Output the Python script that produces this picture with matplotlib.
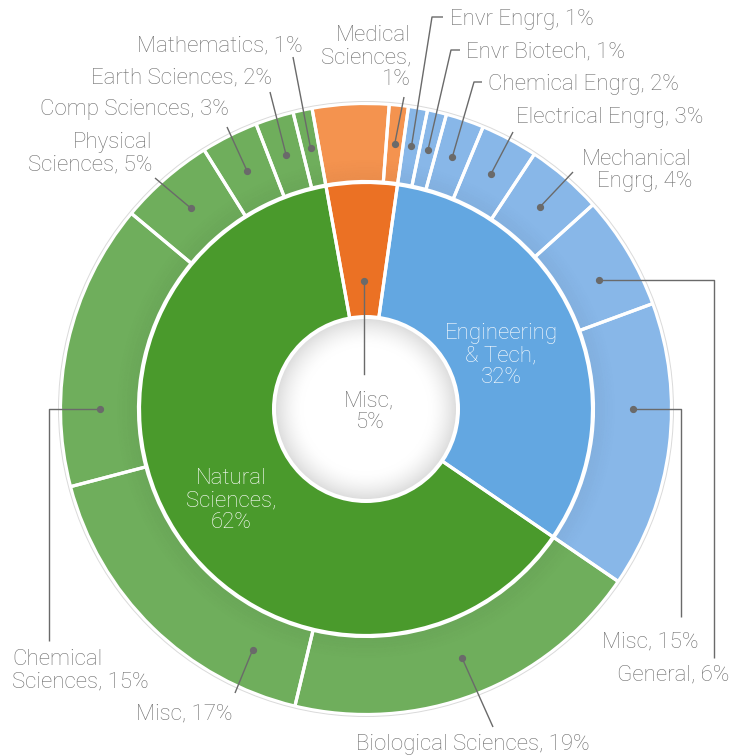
import numpy as np
import matplotlib.pyplot as plt
from matplotlib.patches import Circle, Wedge

# ---------------- data ----------------
inner_labels = ["Engineering\n& Tech", "Natural\nSciences", "Misc"]
inner_values = [32, 62, 5]

outer_labels = ["Envr Engrg", "Envr Biotech", "Chemical Engrg", "Electrical Engrg",
                "Mechanical\nEngrg", "General", "Misc",
                "Biological Sciences", "Misc", "Chemical\nSciences", "Physical\nSciences",
                "Comp Sciences", "Earth Sciences", "Mathematics",
                "Other", "Medical\nSciences"]
outer_values = [1, 1, 2, 3, 4, 6, 15,
                19, 17, 15, 5, 3, 2, 1,
                4, 1]
outer_group = [0] * 7 + [1] * 7 + [2] * 2

# ---------------- style ----------------
W, H = 733, 755
inner_colors = ["#63a7e1", "#4a9a2c", "#eb7124"]
group_outer_colors = ["#88b7e8", "#6fae5c", "#f4934f"]
outer_colors = [group_outer_colors[g] for g in outer_group]
TXT = "#6e6e6e"
LINE = "#6a6a6a"
FONT = "Roboto"
FS = 16

plt.rcParams['font.family'] = [FONT, 'DejaVu Sans']

fig = plt.figure(figsize=(W / 100, H / 100), dpi=100)
ax = fig.add_axes([0, 0, 1, 1])


def P(x, y):
    return x, H - y


CX, CY = P(366, 409)
R_OUT = 305.5
W_OUT = 78
R_IN = 226.5
W_IN = 140
START = 82

# fills
w_out, _ = ax.pie(outer_values, radius=R_OUT, center=(CX, CY), startangle=START,
                  counterclock=False, colors=outer_colors,
                  wedgeprops=dict(width=W_OUT, linewidth=0))
w_in, _ = ax.pie(inner_values, radius=R_IN, center=(CX, CY), startangle=START,
                 counterclock=False, colors=inner_colors,
                 wedgeprops=dict(width=W_IN, linewidth=0))

# subtle shadow on inner edge of outer ring
for k in range(8):
    ax.add_patch(Wedge((CX, CY), 229 + 2.5 * (k + 1), 0, 360, width=2.5,
                       facecolor="black", alpha=0.035 * (1 - k / 8), linewidth=0, zorder=2))

# white separators
ax.pie(outer_values, radius=R_OUT, center=(CX, CY), startangle=START,
       counterclock=False, colors=["none"] * len(outer_values),
       wedgeprops=dict(width=W_OUT, linewidth=2.3, edgecolor="white", zorder=3))
ax.pie(inner_values, radius=R_IN, center=(CX, CY), startangle=START,
       counterclock=False, colors=["none"] * len(inner_values),
       wedgeprops=dict(width=W_IN, linewidth=2.3, edgecolor="white", zorder=3))

# faint outer rim
ax.add_patch(Circle((CX, CY), 307.5, facecolor="none", edgecolor="#dadada",
                    linewidth=0.7, zorder=3))

# centre disc with soft shading
ax.add_patch(Circle((CX, CY), 94, facecolor="white", edgecolor="none", zorder=4))
rc = 90
n = 300
yy, xx = np.mgrid[-1:1:n * 1j, -1:1:n * 1j]
rr = np.sqrt(xx ** 2 + yy ** 2)
t = np.clip((rr - 0.70) / 0.30, 0, 1) ** 1.6
img = np.ones((n, n, 3))
shade = 1 - 0.13 * t
img[..., 0] = shade
img[..., 1] = shade
img[..., 2] = shade
im = ax.imshow(img, extent=(CX - rc, CX + rc, CY - rc, CY + rc), zorder=5,
               interpolation="bilinear")
clip = Circle((CX, CY), rc, transform=ax.transData)
im.set_clip_path(clip)

# ---------------- labels ----------------
outer_sep = [", "] * len(outer_values)
outer_sep[-1] = ",\n"
# layout: text position (px, baseline of last line), alignment, dot fraction along wedge, leader path
outer_layout = {
    0: dict(xy=(522, 25), ha="center", frac=0.5, path=[(432, 17), (443, 17)]),
    1: dict(xy=(545, 57), ha="center", frac=0.5, path=[(451, 50), (460, 50)]),
    2: dict(xy=(583, 90), ha="center", frac=0.5, path=[(474, 82), (482, 82)]),
    3: dict(xy=(610, 123), ha="center", frac=0.5, path=[(513, 132)]),
    4: dict(xy=(692, 187), ha="right", frac=0.5, path=[(573, 172)]),
    5: dict(xy=(673, 680), ha="center", frac=0.6, path=[(714, None), (714, 658)]),
    6: dict(xy=(650, 647), ha="center", frac=0.37, path=[(681, None), (681, 617)]),
    7: dict(xy=(473, 750), ha="center", frac=0.5, path=[(493, 727)]),
    8: dict(xy=(184, 719), ha="center", frac=0.19, path=[(235, 693)]),
    9: dict(xy=(12, 687), ha="left", frac=0.27, path=[(49, None), (49, 641)]),
    10: dict(xy=(152, 170), ha="right", frac=0.5, path=[(155, 178)]),
    11: dict(xy=(134.5, 115), ha="center", frac=0.5, path=[(227, 127)]),
    12: dict(xy=(181.5, 83), ha="center", frac=0.5, path=[(270, 92)]),
    13: dict(xy=(219.5, 51), ha="center", frac=0.5, path=[(293, 57)]),
    15: dict(xy=(411, 85), ha="right", frac=0.5, path=[(404, 97)]),
}

r_mid_out = 266.5
for i, lay in outer_layout.items():
    wdg = w_out[i]
    ang = np.deg2rad(wdg.theta2 - lay["frac"] * (wdg.theta2 - wdg.theta1))
    dx, dy = CX + r_mid_out * np.cos(ang), CY + r_mid_out * np.sin(ang)
    xs, ys = [dx], [dy]
    for (px, py) in lay["path"]:
        xs.append(px)
        ys.append(dy if py is None else H - py)
    ax.plot(xs, ys, color=LINE, lw=1.0, zorder=6, solid_capstyle="butt")
    ax.plot([dx], [dy], "o", color=LINE, ms=4.2, zorder=7)
    txt = f"{outer_labels[i]}{outer_sep[i]}{outer_values[i]}%"
    ax.text(*P(*lay["xy"]), txt, ha=lay["ha"], va="baseline", multialignment=lay["ha"],
            fontsize=FS, color=TXT, linespacing=1.05, zorder=8, fontweight="light")

# inner labels (baseline of last line)
inner_layout = [
    dict(xy=(501, 383), color="white"),
    dict(xy=(231, 528), color="white"),
    dict(xy=(369, 428), color=TXT),
]
for i, lay in enumerate(inner_layout):
    ax.text(*P(*lay["xy"]), f"{inner_labels[i]},\n{inner_values[i]}%", ha="center", va="baseline",
            multialignment="center", fontsize=FS, color=lay["color"], linespacing=1.05,
            zorder=8, fontweight="light")

# inner Misc leader
wm = w_in[2]
am = np.deg2rad((wm.theta1 + wm.theta2) / 2)
mdx, mdy = CX + 128 * np.cos(am), CY + 128 * np.sin(am)
ax.plot([mdx, mdx], [mdy, H - 374], color=LINE, lw=1.0, zorder=6)
ax.plot([mdx], [mdy], "o", color=LINE, ms=4.2, zorder=7)

ax.set_xlim(0, W)
ax.set_ylim(0, H)
ax.set_aspect("equal")
ax.axis("off")
fig.savefig("out.png", dpi=100)
